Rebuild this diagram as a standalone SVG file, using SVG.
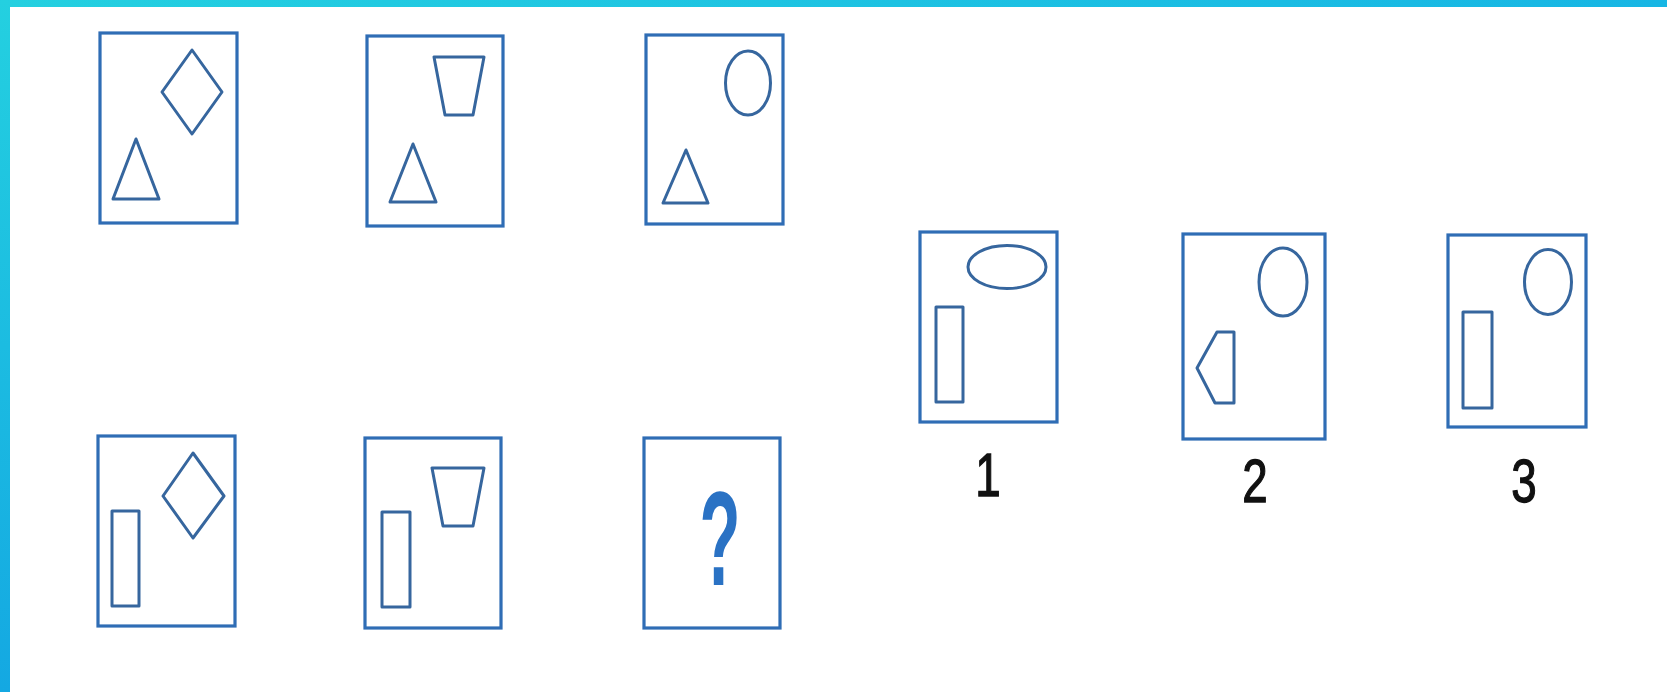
<svg xmlns="http://www.w3.org/2000/svg" width="1667" height="692" viewBox="0 0 1667 692">
<defs>
<linearGradient id="gl" x1="0" y1="0" x2="0" y2="1">
<stop offset="0" stop-color="#24d0e0"/>
<stop offset="1" stop-color="#14a8e2"/>
</linearGradient>
<linearGradient id="gt" x1="0" y1="0" x2="1" y2="0">
<stop offset="0" stop-color="#24d0e0"/>
<stop offset="1" stop-color="#17b6e4"/>
</linearGradient>
<style>
.box{fill:none;stroke:#2f6db5;stroke-width:3.2}
.sh{fill:none;stroke:#36669e;stroke-width:3;stroke-linejoin:round}
.num{font-family:"Liberation Sans",Arial,sans-serif;font-size:61px;fill:#111;stroke:#111;stroke-width:1.3}
.q{font-family:"Liberation Sans",Arial,sans-serif;font-weight:bold;font-size:134px;fill:#2a72c4}
</style>
</defs>
<rect width="1667" height="692" fill="#ffffff"/>
<rect x="0" y="0" width="1667" height="7" fill="url(#gt)"/>
<rect x="0" y="0" width="10" height="692" fill="url(#gl)"/>

<g id="p1">
<rect class="box" x="100" y="33" width="137" height="190"/>
<polygon class="sh" points="192,50 222,92 192,134 162,92"/>
<polygon class="sh" points="136,139 159,199 113,199"/>
</g>
<g id="p2">
<rect class="box" x="367" y="36" width="136" height="190"/>
<polygon class="sh" points="434,57 484,57 473,115 445,115"/>
<polygon class="sh" points="413,144 436,202 390,202"/>
</g>
<g id="p3">
<rect class="box" x="646" y="35" width="137" height="189"/>
<ellipse class="sh" cx="748" cy="83" rx="22.5" ry="32"/>
<polygon class="sh" points="686,150 708,203 663,203"/>
</g>
<g id="p4">
<rect class="box" x="98" y="436" width="137" height="190"/>
<polygon class="sh" points="193,453 224,496 193,538 163,496"/>
<rect class="sh" x="112" y="511" width="27" height="95"/>
</g>
<g id="p5">
<rect class="box" x="365" y="438" width="136" height="190"/>
<polygon class="sh" points="432,468 484,468 473,526 443,526"/>
<rect class="sh" x="382" y="512" width="28" height="95"/>
</g>
<g id="p6">
<rect class="box" x="644" y="438" width="136" height="190"/>
<text class="q" transform="translate(720,585) scale(0.5,1)" text-anchor="middle">?</text>
</g>
<g id="o1">
<rect class="box" x="920" y="232" width="137" height="190"/>
<ellipse class="sh" cx="1007" cy="267" rx="39" ry="21.5"/>
<rect class="sh" x="936" y="307" width="27" height="95"/>
<text class="num" transform="translate(988,496) scale(0.75,1)" text-anchor="middle">1</text>
</g>
<g id="o2">
<rect class="box" x="1183" y="234" width="142" height="205"/>
<ellipse class="sh" cx="1283" cy="282" rx="24" ry="34"/>
<polygon class="sh" points="1217,332 1234,332 1234,403 1215,403 1197,368"/>
<text class="num" transform="translate(1255,502) scale(0.75,1)" text-anchor="middle">2</text>
</g>
<g id="o3">
<rect class="box" x="1448" y="235" width="138" height="192"/>
<ellipse class="sh" cx="1548" cy="282" rx="23.5" ry="32.5"/>
<rect class="sh" x="1463" y="312" width="29" height="96"/>
<text class="num" transform="translate(1524,502) scale(0.75,1)" text-anchor="middle">3</text>
</g>
<g id="connectors"></g>
</svg>
